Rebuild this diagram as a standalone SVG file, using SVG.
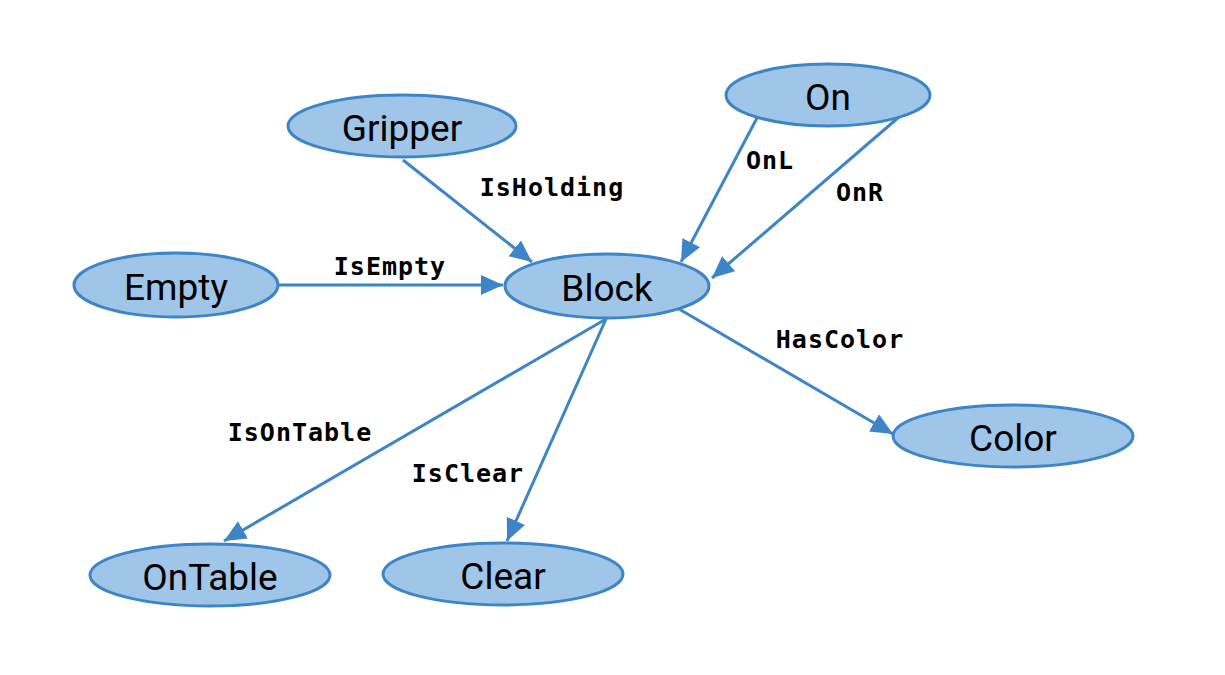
<svg xmlns="http://www.w3.org/2000/svg" width="1225" height="675" viewBox="0 0 1225 675">
<defs>
<style>
.node ellipse{fill:#9fc5e8;stroke:#3d85c6;stroke-width:3}
.node text{font-family:Roboto,"Liberation Sans",sans-serif;font-size:37px;fill:#000;text-anchor:middle;dominant-baseline:central}
.edge line{stroke:#3d85c6;stroke-width:3;marker-end:url(#arr)}
.lbl{font-family:"DejaVu Sans Mono","Liberation Mono",monospace;font-weight:bold;font-size:25px;letter-spacing:1px;fill:#000;text-anchor:middle;dominant-baseline:central}
</style>
<marker id="arr" markerUnits="userSpaceOnUse" markerWidth="26" markerHeight="22" refX="22" refY="10" orient="auto" viewBox="0 0 26 22">
<path d="M0,0 L22,10 L0,20 Z" fill="#3d85c6"/>
</marker>
</defs>
<rect width="1225" height="675" fill="#fff"/>
<g id="connectors">
<g class="edge"><line x1="403" y1="160" x2="532" y2="262"/><text class="lbl" x="552" y="187">IsHolding</text></g>
<g class="edge"><line x1="279" y1="285" x2="503" y2="285"/><text class="lbl" x="390" y="266">IsEmpty</text></g>
<g class="edge"><line x1="757" y1="118" x2="681" y2="262"/><text class="lbl" x="770" y="160">OnL</text></g>
<g class="edge"><line x1="899" y1="117" x2="712" y2="278"/><text class="lbl" x="860" y="192">OnR</text></g>
<g class="edge"><line x1="679" y1="309" x2="893" y2="434"/><text class="lbl" x="840" y="339">HasColor</text></g>
<g class="edge"><line x1="606" y1="319" x2="224" y2="541"/><text class="lbl" x="300" y="432">IsOnTable</text></g>
<g class="edge"><line x1="606" y1="319" x2="507" y2="541"/><text class="lbl" x="468" y="473">IsClear</text></g>
</g>
<g id="node-gripper" class="node"><ellipse cx="402" cy="126" rx="114" ry="31"/><text x="402" y="128">Gripper</text></g>
<g id="node-on" class="node"><ellipse cx="828" cy="95" rx="102" ry="31"/><text x="828" y="97">On</text></g>
<g id="node-empty" class="node"><ellipse cx="176" cy="285" rx="102" ry="32"/><text x="176" y="287">Empty</text></g>
<g id="node-block" class="node"><ellipse cx="607" cy="286" rx="102" ry="32"/><text x="607" y="288">Block</text></g>
<g id="node-color" class="node"><ellipse cx="1013" cy="436" rx="120" ry="31"/><text x="1013" y="438">Color</text></g>
<g id="node-ontable" class="node"><ellipse cx="210" cy="575" rx="120" ry="31"/><text x="210" y="577">OnTable</text></g>
<g id="node-clear" class="node"><ellipse cx="503" cy="574" rx="120" ry="31"/><text x="503" y="576">Clear</text></g>
</svg>
